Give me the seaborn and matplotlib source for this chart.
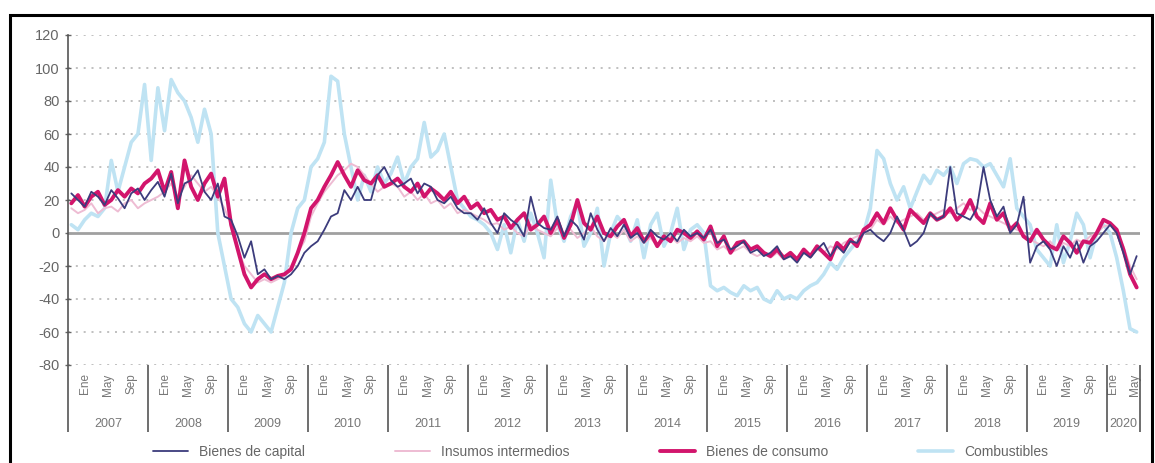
import numpy as np
import pandas as pd
import matplotlib
matplotlib.use('Agg')
import matplotlib.pyplot as plt
from matplotlib.patches import Rectangle
from matplotlib.ticker import FixedLocator
import seaborn as sns

# Monthly data, Jan 2007 - May 2020 (year-on-year variation, %)
years = [str(y) for y in range(2007, 2021)]
month_labels = ['Ene', 'May', 'Sep']

bienes_capital = [
    24, 20, 16, 25, 22, 17, 26, 21, 15, 24, 27, 20,
    26, 31, 22, 36, 18, 30, 32, 38, 25, 20, 30, 10,
    8, -2, -15, -5, -25, -22, -28, -26, -28, -25, -20, -12,
    -8, -5, 2, 10, 12, 26, 20, 28, 20, 20, 35, 40,
    32, 28, 30, 33, 24, 30, 28, 20, 18, 22, 15, 12,
    12, 8, 15, 6, 0, 12, 8, 5, -2, 22, 6, 3,
    2, 10, -2, 8, 4, -4, 12, 2, -5, 3, -2, 5,
    -3, 0, -6, 2, -2, -4, 0, -5, 2, -2, 0, -3,
    2, -6, -4, -10, -8, -5, -12, -10, -14, -12, -8, -16,
    -14, -18, -12, -15, -10, -6, -14, -8, -12, -5, -6, 0,
    2, -2, -5, 0, 10, 2, -8, -5, 0, 12, 8, 10,
    40, 12, 10, 8, 15, 40, 20, 10, 16, 0, 5, 22,
    -18, -8, -5, -10, -20, -8, -15, -5, -18, -8, -5, 0,
    5, 0, -12, -25, -14,
]

insumos_intermedios = [
    15, 12, 14, 18, 12, 15, 16, 13, 18, 20, 15, 18,
    20, 22, 25, 30, 22, 28, 35, 30, 25, 28, 22, 15,
    5, -10, -20, -25, -30, -28, -30, -28, -26, -20, -12, -5,
    10, 18, 25, 30, 35, 38, 42, 40, 35, 30, 25, 28,
    30, 28, 22, 25, 20, 24, 18, 20, 15, 18, 12, 14,
    12, 10, 8, 5, 6, 2, 4, 0, -2, 5, 2, 0,
    -2, 3, 0, 2, -3, 0, 4, -2, -5, 0, -3, 2,
    -5, -2, -6, -3, -8, -4, -2, -6, -3, -5, -2, -6,
    -5, -10, -8, -12, -10, -8, -12, -14, -12, -15, -12, -16,
    -14, -15, -12, -14, -10, -12, -8, -10, -6, -4, -2, 0,
    2, 8, 5, 10, 6, 8, 10, 12, 8, 10, 12, 14,
    12, 15, 18, 14, 16, 12, 10, 8, 6, 4, 2, 0,
    -4, -6, -8, -5, -10, -6, -8, -4, -6, -2, 0, 4,
    5, 0, -8, -20, -28,
]

bienes_consumo = [
    18, 23, 16, 22, 25, 17, 20, 26, 22, 27, 24, 30,
    33, 38, 25, 37, 15, 44, 28, 20, 30, 36, 22, 33,
    5, -10, -25, -33, -28, -25, -28, -26, -25, -22, -12, 0,
    15, 20, 28, 35, 43, 35, 28, 38, 32, 30, 35, 28,
    30, 33, 28, 25, 30, 22, 27, 24, 20, 25, 18, 22,
    15, 18, 12, 14, 8, 10, 3, 8, 12, 2, 5, 10,
    0, 8, -3, 5, 20, 6, 2, 10, 0, -2, 4, 8,
    -2, 3, -5, 0, -8, -2, -5, 2, 0, -3, 1, -4,
    4, -8, -2, -12, -6, -5, -10, -8, -12, -14, -10, -15,
    -12, -16, -10, -14, -8, -12, -16, -6, -10, -4, -8, 2,
    5, 12, 6, 15, 8, 2, 14, 10, 6, 12, 8, 10,
    15, 8, 12, 20, 10, 6, 18, 8, 12, 2, 6, -2,
    -5, 2, -4, -8, -10, -2, -6, -12, -5, -6, 0, 8,
    6, 2, -10, -25, -33,
]

combustibles = [
    5, 2, 8, 12, 10, 15, 44, 25, 40, 55, 60, 90,
    44, 88, 62, 93, 85, 80, 70, 55, 75, 60, 0, -20,
    -40, -45, -55, -60, -50, -55, -60, -45, -30, 0, 15, 20,
    40, 45, 55, 95, 92, 60, 40, 20, 35, 25, 40, 30,
    36, 46, 30, 40, 45, 67, 46, 50, 60, 40, 20, 15,
    10, 8, 5, 0, -10, 5, -12, 8, -5, 12, 0, -15,
    32, 5, -5, 10, 18, -8, 0, 15, -20, 0, 10, 5,
    -5, 8, -15, 5, 12, -8, 0, 15, -10, 2, 5, 0,
    -32, -35, -33, -36, -38, -32, -35, -33, -40, -42, -35, -40,
    -38, -40, -35, -32, -30, -25, -18, -22, -15, -10, -5, 0,
    15, 50, 45, 30, 20, 28, 15, 25, 35, 30, 38, 35,
    40, 30, 42, 45, 44, 40, 42, 35, 28, 45, 15, 10,
    5, -10, -15, -20, 5, -18, -5, 12, 5, -15, 0, 5,
    0, -15, -35, -58, -60,
]

n = len(bienes_capital)
df = pd.DataFrame({
    'mes': np.arange(n),
    'Bienes de capital': bienes_capital,
    'Insumos intermedios': insumos_intermedios,
    'Bienes de consumo': bienes_consumo,
    'Combustibles': combustibles,
})

sns.set_style('white')
plt.rcParams['font.family'] = ['Liberation Sans', 'DejaVu Sans']
plt.rcParams['axes.unicode_minus'] = False

fig = plt.figure(figsize=(11.55, 4.63), dpi=100)
ax = fig.add_axes([68 / 1155, 1 - 365 / 463, (1140 - 68) / 1155, 330 / 463])

styles = {
    'Combustibles': ('#bfe3f3', 2.6),
    'Insumos intermedios': ('#eebcd3', 1.4),
    'Bienes de consumo': ('#d2156c', 2.8),
    'Bienes de capital': ('#3c3c7c', 1.3),
}
for name, (color, lw) in styles.items():
    sns.lineplot(data=df, x='mes', y=name, color=color, linewidth=lw, ax=ax, label=name)

# grid and zero line
for v in range(-80, 121, 20):
    if v != 0:
        ax.axhline(v, color='#b5b5b5', lw=1.2, ls=(0, (1.2, 3.5)), zorder=0)
ax.axhline(0, color='#a0a0a0', lw=2, zorder=1)

ax.set_ylim(-80, 120)
ax.set_xlim(-0.5, n - 0.5)
ax.set_yticks(range(-80, 121, 20))
ax.tick_params(axis='y', left=True, colors='#666666', labelsize=10.5, length=5,
               width=1, direction='inout')
for s in ['top', 'right', 'bottom']:
    ax.spines[s].set_visible(False)
ax.spines['left'].set_color('#555555')
ax.spines['left'].set_linewidth(1.2)

# month labels, spread inside each year block
mpos, mlab = [], []
for k in range(len(years) - 1):
    for off, lab in zip((2.0, 5.5, 9.0), month_labels):
        mpos.append(12 * k + off)
        mlab.append(lab)
mpos += [156.5, 159.8]
mlab += ['Ene', 'May']
ax.set_xticks(mpos)
ax.set_xticklabels(mlab, rotation=90, fontsize=8.5, color='#777777')
ax.tick_params(axis='x', which='major', bottom=True, length=0, pad=6)

# year separators as long minor ticks
bounds = list(np.arange(-0.5, n, 12)) + [n - 0.5]
ax.xaxis.set_minor_locator(FixedLocator(bounds))
ax.tick_params(axis='x', which='minor', bottom=True, length=48, width=1.2,
               color='#555555', direction='out')

for k, yr in enumerate(years):
    start = k * 12
    end = min(start + 12, n)
    ax.text((start + end - 1) / 2, -0.18, yr, transform=ax.get_xaxis_transform(),
            ha='center', va='center', fontsize=9, color='#777777')

ax.set_xlabel('')
ax.set_ylabel('')

# legend
ax.get_legend().remove()
handles, labels = ax.get_legend_handles_labels()
order = ['Bienes de capital', 'Insumos intermedios', 'Bienes de consumo', 'Combustibles']
hmap = dict(zip(labels, handles))
leg = fig.legend([hmap[o] for o in order], order, loc='center', ncol=4,
                 bbox_to_anchor=(0.52, 1 - 452 / 463), frameon=False, fontsize=10,
                 columnspacing=6.5, handlelength=2.5, labelcolor='#666666')

# outer frame
fig.patches.append(Rectangle((10 / 1155, -0.05), 1142 / 1155, 1.05 - 15 / 463,
                             transform=fig.transFigure, fill=False, lw=2.2,
                             edgecolor='black'))

fig.savefig('out.png', dpi=100)
